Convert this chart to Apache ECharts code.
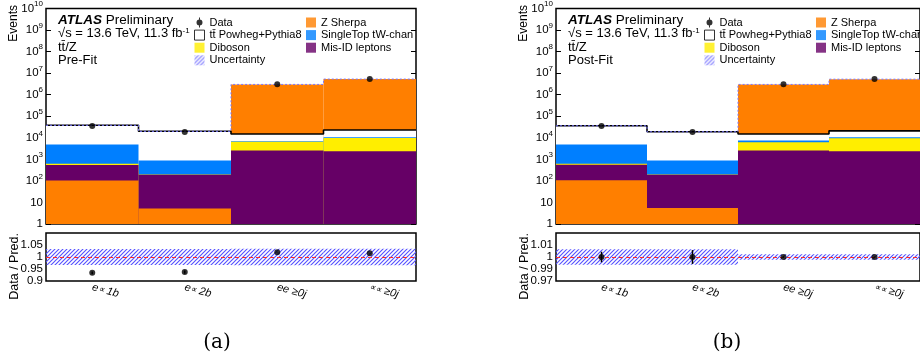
<!DOCTYPE html>
<html>
<head>
<meta charset="utf-8">
<script src="https://cdn.jsdelivr.net/npm/echarts@6/dist/echarts.min.js"></script>
<style>
html, body { margin: 0; padding: 0; background: #fff; }
#main { width: 920px; height: 358px; }
</style>
</head>
<body>
<div id="main"></div>
<script>
var myChart = echarts.init(document.getElementById('main'));

// bins
var categories = ['e∝ 1b', 'e∝ 2b', 'ee ≥0j', '∝∝ ≥0j'];
// ratio tick labels
var preRatioTicks = [0.9, 0.95, 1, 1.05];
var preRatioLabels = ['0.9', '0.95', '1', '1.05'];
var postRatioTicks = [0.975, 0.9875, 1, 1.0125];
var postRatioLabels = ['0.97', '0.99', '1', '1.01'];

// (a) Pre-Fit : upper edge of each process band per bin (events)
var preTtbar = [3.8e4, 2.0e4, 1.5e4, 2.3e4];
var preZSherpa = [103, 5.3, 3.0e6, 5.3e6];
var preSingleTop = [4.9e3, 890, 7.0e3, 1.05e4];
var preDiboson = [620, 197, 6.6e3, 9.9e3];
var preMisID = [540, 195, 2.6e3, 2.4e3];
var preData = [3.5e4, 1.87e4, 3.05e6, 5.4e6];
var preRatio = [0.934, 0.937, 1.020, 1.016];
var preRatioErr = [0.0055, 0.0072, 0.0006, 0.0004];
var preBand = [0.033, 0.033, 0.034, 0.034];

// (b) Post-Fit
var postTtbar = [3.6e4, 1.9e4, 1.5e4, 2.1e4];
var postZSherpa = [107, 5.6, 3.0e6, 5.25e6];
var postSingleTop = [4.9e3, 890, 7.4e3, 1.05e4];
var postDiboson = [620, 197, 6.2e3, 9.5e3];
var postMisID = [560, 195, 2.6e3, 2.4e3];
var postData = [3.5e4, 1.87e4, 3.05e6, 5.4e6];
var postRatio = [1, 1, 1, 1];
var postRatioErr = [0.0055, 0.0072, 0.0006, 0.0004];
var postBand = [0.008, 0.008, 0.0028, 0.0028];

var colZ = '#ff7f00', colTop = '#007fff', colDib = '#ffee00', colMis = '#660066';
var font = 'Liberation Sans';

// hatch pattern for uncertainty
function makeHatch(color) {
    var c = document.createElement('canvas');
    c.width = 4; c.height = 4;
    var ctx = c.getContext('2d');
    ctx.strokeStyle = color;
    ctx.lineWidth = 1.15;
    ctx.beginPath();
    ctx.moveTo(0, 4); ctx.lineTo(4, 0);
    ctx.moveTo(-1, 1); ctx.lineTo(1, -1);
    ctx.moveTo(3, 5); ctx.lineTo(5, 3);
    ctx.stroke();
    return c;
}
var hatchFill = { image: makeHatch('#5652ff'), repeat: 'repeat' };

var dataIcon = 'path://M4.5,0h1v2h-1z M4.5,8h1v2h-1z M2,5a3,3 0 1,0 6,0a3,3 0 1,0 -6,0z M0,5L0,5.01L0.01,5z M10,5L10,5.01L9.99,5z';

function logLabel(v) {
    var e = Math.round(Math.log(v) / Math.LN10);
    if (e === 0) return '{b|1}';
    if (e === 1) return '{b|10}';
    return '{b|10}{s|' + e + '}';
}

function stepPoints(vals) {
    var pts = [];
    vals.forEach(function (v, i) { pts.push([i, v]); pts.push([i + 1, v]); });
    return pts;
}

var option = {
    animation: false,
    textStyle: { fontFamily: font },
    grid: [], xAxis: [], yAxis: [], series: [], legend: [], graphic: []
};

function addPanel(left, d) {
    var gm = option.grid.length, gr = gm + 1;
    option.grid.push({ left: left, top: 7, width: 370, height: 217, show: true, borderColor: '#000', borderWidth: 1.5 });
    option.grid.push({ left: left, top: 233, width: 370, height: 48, show: true, borderColor: '#000', borderWidth: 1.5 });

    var tick = { inside: true, length: 5, lineStyle: { color: '#000', width: 1 } };
    var xb = option.xAxis.length, yb = option.yAxis.length;
    // main: category bottom, category top, hidden value axis for step lines
    option.xAxis.push({ type: 'category', gridIndex: gm, data: categories, axisLine: { show: false }, axisTick: tick, axisLabel: { show: false } });
    option.xAxis.push({ type: 'category', gridIndex: gm, position: 'top', data: categories, axisLine: { show: false }, axisTick: tick, axisLabel: { show: false } });
    option.xAxis.push({ type: 'value', gridIndex: gm, min: 0, max: 4, show: false });
    // ratio: category bottom with labels, category top
    option.xAxis.push({
        type: 'category', gridIndex: gr, data: categories, axisLine: { show: false }, axisTick: tick,
        axisLabel: {
            rotate: -15, margin: 6, fontSize: 11, fontStyle: 'italic', color: '#000',
            formatter: function (v) { return v.replace(/∝/g, '{m|∝}'); },
            rich: { m: { fontSize: 8.5, fontStyle: 'italic', color: '#000' } }
        }
    });
    option.xAxis.push({ type: 'category', gridIndex: gr, position: 'top', data: categories, axisLine: { show: false }, axisTick: tick, axisLabel: { show: false } });

    var logRich = {
        b: { fontSize: 11.5, lineHeight: 17, color: '#000' },
        s: { fontSize: 8, lineHeight: 10, verticalAlign: 'top', color: '#000' }
    };
    option.yAxis.push({
        type: 'log', logBase: 10, gridIndex: gm, min: 1, max: 1e10, splitNumber: 10, interval: 1,
        axisLine: { show: false }, splitLine: { show: false }, axisTick: tick,
        axisLabel: { margin: 3, formatter: logLabel, rich: logRich, showMinLabel: true, showMaxLabel: true }
    });
    option.yAxis.push({
        type: 'log', logBase: 10, gridIndex: gm, position: 'right', min: 1, max: 1e10, splitNumber: 10, interval: 1,
        axisLine: { show: false }, splitLine: { show: false }, axisTick: tick, axisLabel: { show: false }
    });
    var rTicks = d.rTicks, rLabels = d.rLabels;
    option.yAxis.push({
        type: 'value', gridIndex: gr, min: d.rMin, max: d.rMax, interval: d.rInt,
        axisLine: { show: false }, splitLine: { show: false }, axisTick: tick,
        axisLabel: {
            margin: 3, fontSize: 11.5, color: '#000',
            formatter: function (v) {
                for (var i = 0; i < rTicks.length; i++) {
                    if (Math.abs(v - rTicks[i]) < 1e-6) return rLabels[i];
                }
                return '';
            }
        }
    });
    option.yAxis.push({
        type: 'value', gridIndex: gr, position: 'right', min: d.rMin, max: d.rMax, interval: d.rInt,
        axisLine: { show: false }, splitLine: { show: false }, axisTick: tick, axisLabel: { show: false }
    });

    // stacked histogram layers: per bin, larger bands drawn first
    var procs = [
        { v: d.ttbar, c: '#ffffff' },
        { v: d.z, c: colZ },
        { v: d.top, c: colTop },
        { v: d.dib, c: colDib },
        { v: d.mis, c: colMis }
    ];
    for (var k = 0; k < procs.length; k++) {
        var layer = categories.map(function (_, i) {
            var sorted = procs.slice().sort(function (a, b) { return b.v[i] - a.v[i]; });
            return { value: sorted[k].v[i], itemStyle: { color: sorted[k].c } };
        });
        option.series.push({
            type: 'bar', xAxisIndex: xb, yAxisIndex: yb, barGap: '-100%', barCategoryGap: '0%',
            silent: true, data: layer, z: 2
        });
    }
    // ttbar outline
    option.series.push({
        type: 'line', xAxisIndex: xb + 2, yAxisIndex: yb, data: stepPoints(d.ttbar),
        symbol: 'none', silent: true, lineStyle: { color: '#000', width: 1.6 }, z: 5
    });
    // uncertainty on total prediction (thin)
    var totals = categories.map(function (_, i) {
        return Math.max(d.ttbar[i], d.z[i], d.top[i], d.dib[i], d.mis[i]);
    });
    option.series.push({
        type: 'line', xAxisIndex: xb + 2, yAxisIndex: yb, data: stepPoints(totals),
        symbol: 'none', silent: true, lineStyle: { color: '#7a76ff', width: 1, type: [2, 2] }, z: 6
    });
    option.series.push({
        type: 'scatter', name: 'Data', xAxisIndex: xb, yAxisIndex: yb, data: d.data,
        symbolSize: 6, itemStyle: { color: '#000' }, silent: true, z: 10
    });
    // legend-only entries
    [['tt̄ Powheg+Pythia8', { color: '#fff', borderColor: '#000', borderWidth: 1 }],
     ['Diboson', { color: colDib }],
     ['Uncertainty', { color: hatchFill }],
     ['Z Sherpa', { color: colZ }],
     ['SingleTop tW-chan', { color: colTop }],
     ['Mis-ID leptons', { color: colMis }]].forEach(function (e) {
        option.series.push({ type: 'scatter', name: e[0], xAxisIndex: xb, yAxisIndex: yb, data: [], itemStyle: e[1] });
    });

    // ratio panel
    option.series.push({
        type: 'bar', xAxisIndex: xb + 3, yAxisIndex: yb + 2, stack: 'band' + left, barCategoryGap: '0%',
        data: d.band.map(function (e) { return 1 - e; }), itemStyle: { color: 'rgba(0,0,0,0)' }, silent: true
    });
    option.series.push({
        type: 'bar', xAxisIndex: xb + 3, yAxisIndex: yb + 2, stack: 'band' + left, barCategoryGap: '0%',
        data: d.band.map(function (e) { return 2 * e; }), itemStyle: { color: hatchFill }, silent: true
    });
    option.series.push({
        type: 'custom', xAxisIndex: xb + 3, yAxisIndex: yb + 2, silent: true, z: 9,
        data: d.ratio.map(function (r, i) { return [i, r, d.err[i]]; }),
        renderItem: function (params, api) {
            var x = api.value(0), y = api.value(1), e = api.value(2);
            var p1 = api.coord([x, y + e]), p2 = api.coord([x, y - e]);
            return { type: 'line', shape: { x1: p1[0], y1: p1[1], x2: p2[0], y2: p2[1] }, style: { stroke: '#000', lineWidth: 1.5 } };
        }
    });
    option.series.push({
        type: 'scatter', xAxisIndex: xb + 3, yAxisIndex: yb + 2, data: d.ratio,
        symbolSize: 6, itemStyle: { color: '#000' }, silent: true, z: 10,
        markLine: {
            silent: true, symbol: 'none', label: { show: false },
            lineStyle: { color: '#ff2a2a', type: [4, 3], width: 1.2 },
            data: [{ yAxis: 1 }]
        }
    });

    // legends
    var legText = { fontSize: 11, color: '#000', lineHeight: 12, fontFamily: font };
    option.legend.push({
        orient: 'vertical', left: left + 148, top: 16.5, itemWidth: 10, itemHeight: 10, itemGap: 0.6,
        selectedMode: false, textStyle: legText, padding: 0,
        data: [
            { name: 'Data', icon: dataIcon },
            { name: 'tt̄ Powheg+Pythia8', icon: 'rect', itemStyle: { color: '#fff', borderColor: '#000', borderWidth: 1 } },
            { name: 'Diboson', icon: 'rect' },
            { name: 'Uncertainty', icon: 'rect' }
        ]
    });
    option.legend.push({
        orient: 'vertical', left: left + 260, top: 16.5, itemWidth: 10, itemHeight: 10, itemGap: 0.6,
        selectedMode: false, textStyle: legText, padding: 0,
        data: [
            { name: 'Z Sherpa', icon: 'rect' },
            { name: 'SingleTop tW-chan', icon: 'rect' },
            { name: 'Mis-ID leptons', icon: 'rect' }
        ]
    });

    // labels
    var tx = left + 12;
    option.graphic.push(
        { type: 'text', x: tx, y: 20, style: { text: '{a|ATLAS} Preliminary', fontSize: 13.5, fontFamily: font, fill: '#000', verticalAlign: 'middle',
            rich: { a: { fontSize: 13.5, fontWeight: 'bold', fontStyle: 'italic', fontFamily: font } } } },
        { type: 'text', x: tx, y: 33.5, style: { text: '√s = 13.6 TeV, 11.3 fb{s|-1}', fontSize: 13, fontFamily: font, fill: '#000', verticalAlign: 'middle',
            rich: { s: { fontSize: 8, verticalAlign: 'top', lineHeight: 10, fontFamily: font } } } },
        { type: 'text', x: tx, y: 47, style: { text: 'tt̄/Z', fontSize: 13, fontFamily: font, fill: '#000', verticalAlign: 'middle' } },
        { type: 'text', x: tx, y: 60.5, style: { text: d.stage, fontSize: 13, fontFamily: font, fill: '#000', verticalAlign: 'middle' } },
        { type: 'text', x: left - 32, y: 5, rotation: Math.PI / 2, style: { text: 'Events', fontSize: 12, fontFamily: font, fill: '#000', align: 'right', verticalAlign: 'middle' } },
        { type: 'text', x: left - 31, y: 233, rotation: Math.PI / 2, style: { text: 'Data / Pred.', fontSize: 12.5, fontFamily: font, fill: '#000', align: 'right', verticalAlign: 'middle' } },
        { type: 'text', x: left + 171, y: 343, style: { text: d.caption, fontSize: 20, fontFamily: 'DejaVu Serif', fill: '#000', align: 'center', verticalAlign: 'middle' } }
    );
}

addPanel(46, {
    ttbar: preTtbar, z: preZSherpa, top: preSingleTop, dib: preDiboson, mis: preMisID,
    data: preData, ratio: preRatio, err: preRatioErr, band: preBand,
    rMin: 0.9, rMax: 1.1, rInt: 0.05, rTicks: preRatioTicks, rLabels: preRatioLabels,
    stage: 'Pre-Fit', caption: '(a)'
});
addPanel(556, {
    ttbar: postTtbar, z: postZSherpa, top: postSingleTop, dib: postDiboson, mis: postMisID,
    data: postData, ratio: postRatio, err: postRatioErr, band: postBand,
    rMin: 0.975, rMax: 1.025, rInt: 0.0125, rTicks: postRatioTicks, rLabels: postRatioLabels,
    stage: 'Post-Fit', caption: '(b)'
});

myChart.setOption(option);
</script>
</body>
</html>
